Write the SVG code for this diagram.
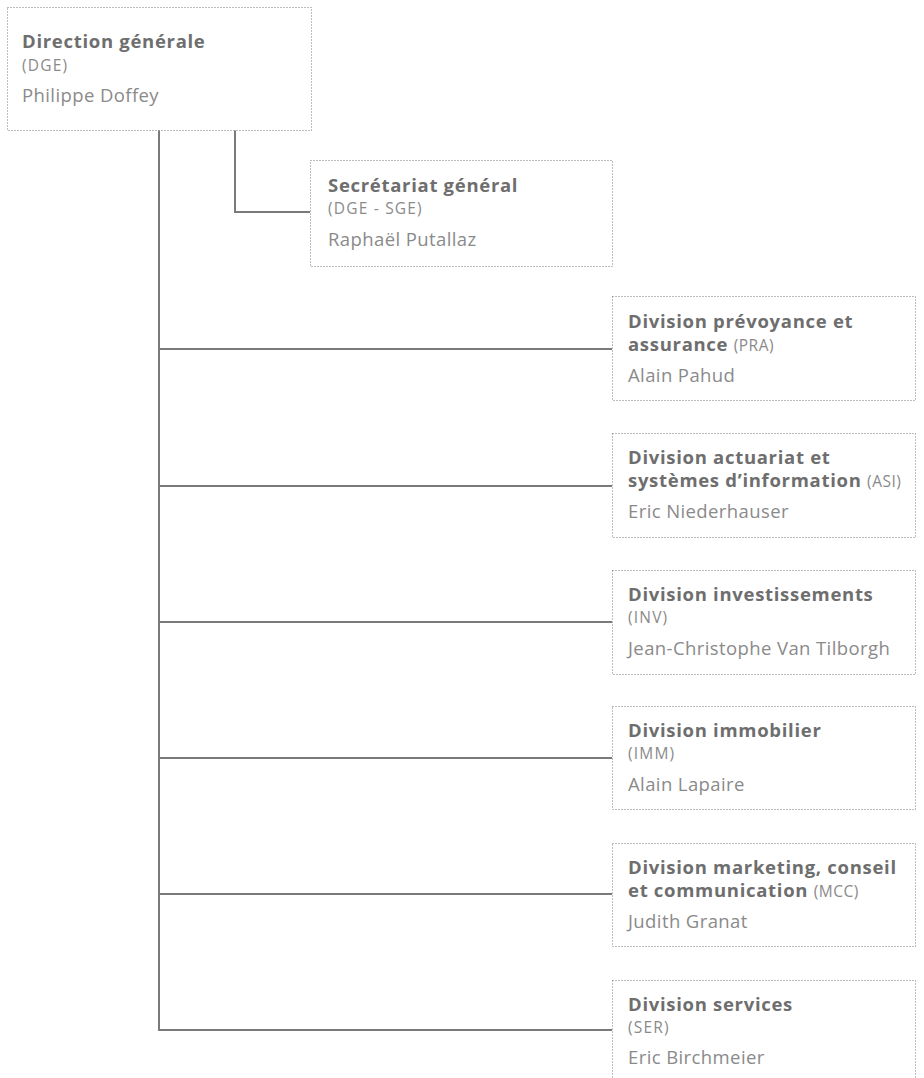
<svg xmlns="http://www.w3.org/2000/svg" width="924" height="1078" viewBox="0 0 924 1078">
<style>
.box{fill:#fff;stroke:#7a7a7a;stroke-width:1;stroke-dasharray:1 2}
.t{font-family:"Open Sans","Noto Sans",sans-serif;font-weight:bold;font-size:18.5px;letter-spacing:0.7px;fill:#6e6e6e}
.c{font-family:"Open Sans","Noto Sans",sans-serif;font-weight:normal;font-size:15.5px;fill:#8a8a8a;letter-spacing:1.2px}
.n{font-family:"Open Sans","Noto Sans",sans-serif;font-size:18.5px;letter-spacing:0.4px;fill:#8a8a8a}
.ln{fill:none;stroke:#7a7a7a;stroke-width:2}
</style>
<g id="connectors">
<path class="ln" d="M159 130 V1030 H612"/>
<path class="ln" d="M235 130 V212 H310"/>
<path class="ln" d="M159 349 H612"/>
<path class="ln" d="M159 486 H612"/>
<path class="ln" d="M159 622 H612"/>
<path class="ln" d="M159 758 H612"/>
<path class="ln" d="M159 894 H612"/>
</g>
<g id="dge">
<rect class="box" x="7.5" y="7.5" width="304" height="123"/>
<text class="t" x="22" y="48">Direction générale</text>
<text class="c" x="22" y="71">(DGE)</text>
<text class="n" x="22" y="102">Philippe Doffey</text>
</g>
<g id="sge">
<rect class="box" x="310.5" y="160.5" width="302" height="106"/>
<text class="t" x="328" y="192">Secrétariat général</text>
<text class="c" x="328" y="214">(DGE - SGE)</text>
<text class="n" x="328" y="246">Raphaël Putallaz</text>
</g>
<g id="pra">
<rect class="box" x="612.5" y="296.5" width="303" height="104"/>
<text class="t" x="628" y="328">Division prévoyance et</text>
<text x="628" y="351"><tspan class="t">assurance </tspan><tspan class="c" style="letter-spacing:0.5px">(PRA)</tspan></text>
<text class="n" x="628" y="382">Alain Pahud</text>
</g>
<g id="asi">
<rect class="box" x="612.5" y="433.5" width="303" height="104"/>
<text class="t" x="628" y="464">Division actuariat et</text>
<text x="628" y="487"><tspan class="t">systèmes d’information </tspan><tspan class="c" style="letter-spacing:0.5px">(ASI)</tspan></text>
<text class="n" x="628" y="518">Eric Niederhauser</text>
</g>
<g id="inv">
<rect class="box" x="612.5" y="570.5" width="303" height="104"/>
<text class="t" x="628" y="601">Division investissements</text>
<text class="c" x="628" y="623">(INV)</text>
<text class="n" x="628" y="655">Jean-Christophe Van Tilborgh</text>
</g>
<g id="imm">
<rect class="box" x="612.5" y="706.5" width="303" height="103"/>
<text class="t" x="628" y="737">Division immobilier</text>
<text class="c" x="628" y="759">(IMM)</text>
<text class="n" x="628" y="791">Alain Lapaire</text>
</g>
<g id="mcc">
<rect class="box" x="612.5" y="843.5" width="303" height="103"/>
<text class="t" x="628" y="874">Division marketing, conseil</text>
<text x="628" y="897"><tspan class="t">et communication </tspan><tspan class="c" style="letter-spacing:0.5px">(MCC)</tspan></text>
<text class="n" x="628" y="928">Judith Granat</text>
</g>
<g id="ser">
<rect class="box" x="612.5" y="980.5" width="303" height="110"/>
<text class="t" x="628" y="1011">Division services</text>
<text class="c" x="628" y="1033">(SER)</text>
<text class="n" x="628" y="1064">Eric Birchmeier</text>
</g>
</svg>
